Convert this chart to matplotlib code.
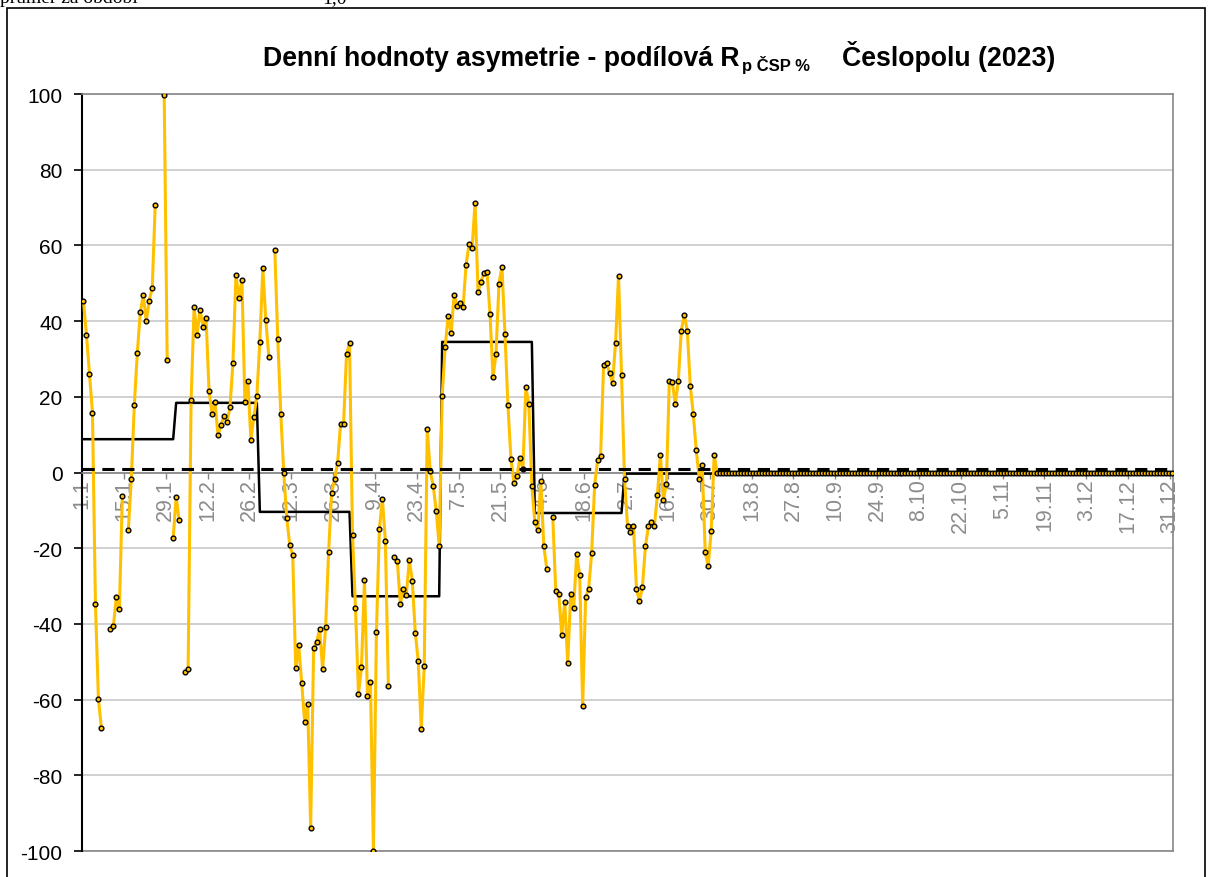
import numpy as np
import matplotlib.pyplot as plt
from matplotlib.patches import Rectangle

plt.rcParams['font.family'] = ['Liberation Sans', 'DejaVu Sans']
plt.rcParams['axes.unicode_minus'] = False

# denní hodnoty asymetrie (%), None = den bez hodnoty
jan = [45.2, 36.3, 26.0, 15.8, -34.8, -59.9, -67.6, None, None, -41.4, -40.6, -32.8, -36.1, -6.1, None, -15.2,
       -1.6, 17.8, 31.6, 42.3, 46.9, 40.0, 45.4, 48.8, 70.8, None, None, 99.7, 29.6, None, -17.3]
feb = [-6.5, -12.6, None, -52.7, -51.8, 19.1, 43.6, 36.3, 43.0, 38.5, 40.9, 21.6, 15.5, 18.6, 9.9, 12.5,
       15.0, 13.4, 17.2, 29.0, 52.1, 46.2, 50.8, 18.6, 24.3, 8.7, 14.7, 20.3]
mar = [34.6, 53.9, 40.2, 30.6, None, 58.9, 35.2, 15.5, 0.0, -12.0, -19.1, -21.9, -51.7, -45.7, -55.6, -66.0,
       -61.1, -93.8, -46.4, -44.8, -41.3, -52.0, -40.8, -21.1, -5.5, -1.8, 2.5, 12.7, 12.7, 31.2, 34.3]
apr = [-16.4, -35.9, -58.4, -51.5, -28.5, -59.1, -55.4, -100.0, -42.1, -14.8, -7.0, -18.2, -56.4, None, -22.4,
       -23.4, -34.7, -30.8, -32.4, -23.1, -28.6, -42.3, -49.9, -67.8, -51.0, 11.5, 0.3, -3.5, -10.1, -19.4]
may = [20.2, 33.2, 41.4, 36.8, 46.9, 44.1, 44.7, 43.8, 54.9, 60.3, 59.2, 71.2, 47.8, 50.4, 52.7, 53.1,
       41.9, 25.1, 31.3, 49.9, 54.4, 36.7, 17.8, 3.6, -2.7, -1.0, 3.9, 0.9, 22.5, 18.0, -3.5]
jun = [-13.2, -15.2, -2.2, -19.5, -25.4, None, -11.7, -31.4, -32.0, -43.0, -34.1, -50.3, -32.2, -35.8, -21.5,
       -27.0, -61.8, -32.9, -30.7, -21.4, -3.4, 3.3, 4.3, 28.3, 28.9, 26.2, 23.7, 34.2, 52.0, 25.8]
jul = [-1.6, -14.1, -15.6, -14.1, -30.7, -34.0, -30.2, -19.5, -14.2, -13.2, -14.1, -6.0, 4.7, -7.3, -3.0,
       24.2, 23.8, 18.0, 24.2, 37.5, 41.7, 37.5, 22.9, 15.5, 5.9, -1.6, 2.0, -21.1, -24.7, -15.4, 4.7]
aug_dec = [0.0] * 153

# měsíční průměry a průměr za období
month_len = [31, 28, 31, 30, 31, 30, 31, 31, 30, 31, 30, 31]
month_avg = [8.8, 18.4, -10.4, -32.7, 34.5, -10.7, -0.3, 0.0, 0.0, 0.0, 0.0, 0.0]
period_avg = 1.0

tick_labels = ["1.1", "15.1", "29.1", "12.2", "26.2", "12.3", "26.3", "9.4", "23.4", "7.5", "21.5",
               "4.6", "18.6", "2.7", "16.7", "30.7", "13.8", "27.8", "10.9", "24.9", "8.10", "22.10",
               "5.11", "19.11", "3.12", "17.12", "31.12"]

daily = np.array(jan + feb + mar + apr + may + jun + jul + aug_dec, dtype=float)
days = np.arange(len(daily))
step = np.repeat(month_avg, month_len)

W, H = 1209, 878
fig = plt.figure(figsize=(W / 100, H / 100), dpi=100)
ax = fig.add_axes([82 / W, 1 - 852 / H, 1091 / W, 757 / H])

ax.plot(days, step, color='black', lw=1.8, zorder=3)
ax.plot(days, daily, color='#FFC000', lw=2.2, marker='o', ms=3.4, mfc='#FFC000',
        mec='black', mew=1.0, zorder=4)
ax.axhline(period_avg, color='black', lw=2.2, dashes=(4, 2.5), zorder=5)

ax.set_xlim(-0.5, 364.5)
ax.set_ylim(-100, 100)
ax.set_yticks(range(-100, 101, 20))
ax.set_xticks(np.arange(len(tick_labels)) * 14 - 0.5)
ax.set_xticklabels(tick_labels)
ax.yaxis.grid(True, color='#C8C8C8', lw=1.2)
ax.set_axisbelow(True)

for s in ['top', 'right']:
    ax.spines[s].set_color('#868686')
    ax.spines[s].set_linewidth(1.2)
ax.spines['left'].set_color('black')
ax.spines['left'].set_linewidth(1.5)
ax.spines['bottom'].set_position(('data', 0))
ax.spines['bottom'].set_color('#868686')
ax.spines['bottom'].set_linewidth(1.2)
ax.axhline(-100, color='#868686', lw=1.2, clip_on=False, zorder=1)

ax.tick_params(axis='y', direction='out', length=6, width=1.2, color='black', labelsize=15, pad=8)
ax.tick_params(axis='x', direction='out', length=4, width=1.0, color='#868686', labelcolor='#8C8C8C',
               labelsize=15.5, labelrotation=90, pad=0)

# nadpis po částech (dolní index menším písmem)
base = 1 - 66 / H
fig.text(263 / W, base, "Denní hodnoty asymetrie - podílová R", ha='left', va='baseline',
         fontsize=19.2, fontweight='bold')
fig.text(742 / W, base - 5 / H, "p ČSP %", ha='left', va='baseline', fontsize=12, fontweight='bold')
fig.text(842 / W, base, "Česlopolu (2023)", ha='left', va='baseline', fontsize=19.2, fontweight='bold')

fig.text(0.0, 1 - 3 / H, "průměr za období", family='Liberation Serif', fontsize=14, va='baseline')
fig.text(322 / W, 1 - 3 / H, "1,0", family='Liberation Serif', fontsize=14, va='baseline')

fig.add_artist(Rectangle((7 / W, -0.05), 1198 / W, 1.05 - 9 / H, transform=fig.transFigure,
                         fill=False, ec='black', lw=1.2))

fig.savefig('out.png', dpi=100)
